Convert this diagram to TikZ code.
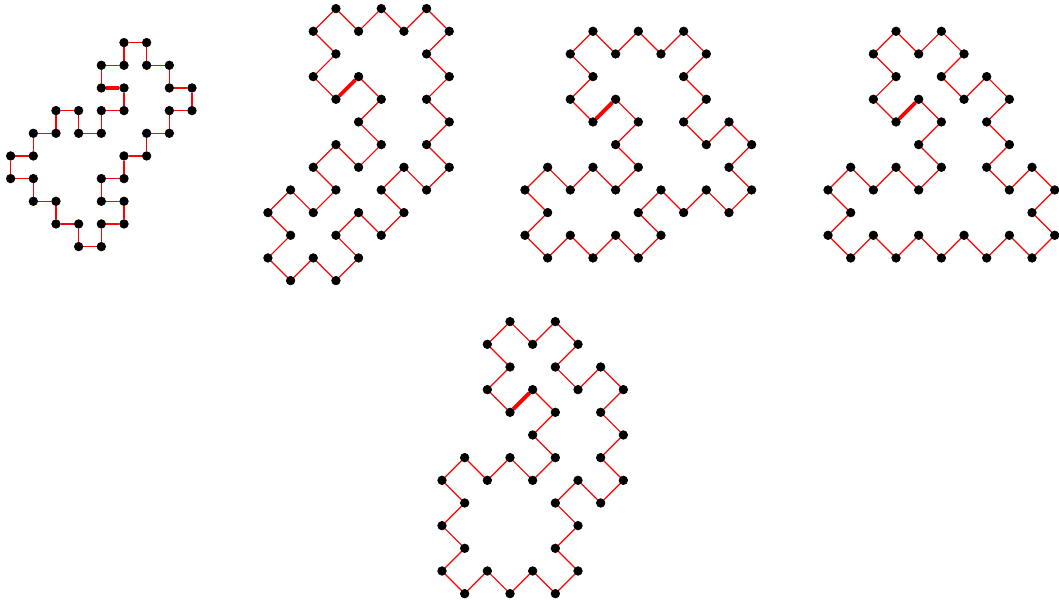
\documentclass[tikz,border=0pt]{standalone}
\usepackage{pgf, tikz}
\pgfdeclarelayer{edgelayer}
\pgfdeclarelayer{nodelayer}
\pgfsetlayers{edgelayer,nodelayer,main}
\tikzstyle{edge}=[draw=red, line width=0.75pt]
\tikzstyle{boldedge}=[draw=red, line width=2.4pt]
\tikzstyle{vertex}=[circle, fill=black, draw=black, inner sep=0pt, minimum size=5.4pt]

\begin{document}
\begin{tikzpicture}[scale=0.5]
	\useasboundingbox (0, 0) rectangle (46.72, 26.6);
	\begin{pgfonlayer}{nodelayer}
		\begin{scope}[shift={(0.47, 24.72)}]
			\node [style=vertex] (0) at (5, -2) {};
			\node [style=vertex] (1) at (5, -3) {};
			\node [style=vertex] (2) at (4, -3) {};
			\node [style=vertex] (3) at (4, -4) {};
			\node [style=vertex] (4) at (3, -4) {};
			\node [style=vertex] (5) at (3, -3) {};
			\node [style=vertex] (6) at (2, -3) {};
			\node [style=vertex] (7) at (2, -4) {};
			\node [style=vertex] (8) at (1, -4) {};
			\node [style=vertex] (9) at (1, -5) {};
			\node [style=vertex] (10) at (0, -5) {};
			\node [style=vertex] (11) at (0, -6) {};
			\node [style=vertex] (12) at (1, -6) {};
			\node [style=vertex] (13) at (1, -7) {};
			\node [style=vertex] (14) at (2, -7) {};
			\node [style=vertex] (15) at (2, -8) {};
			\node [style=vertex] (16) at (3, -8) {};
			\node [style=vertex] (17) at (3, -9) {};
			\node [style=vertex] (18) at (4, -9) {};
			\node [style=vertex] (19) at (4, -8) {};
			\node [style=vertex] (20) at (5, -8) {};
			\node [style=vertex] (21) at (5, -7) {};
			\node [style=vertex] (22) at (4, -7) {};
			\node [style=vertex] (23) at (4, -6) {};
			\node [style=vertex] (24) at (5, -6) {};
			\node [style=vertex] (25) at (5, -5) {};
			\node [style=vertex] (26) at (6, -5) {};
			\node [style=vertex] (27) at (6, -4) {};
			\node [style=vertex] (28) at (7, -4) {};
			\node [style=vertex] (29) at (7, -3) {};
			\node [style=vertex] (30) at (8, -3) {};
			\node [style=vertex] (31) at (8, -2) {};
			\node [style=vertex] (32) at (7, -2) {};
			\node [style=vertex] (33) at (7, -1) {};
			\node [style=vertex] (34) at (6, -1) {};
			\node [style=vertex] (35) at (6, 0) {};
			\node [style=vertex] (36) at (5, 0) {};
			\node [style=vertex] (37) at (5, -1) {};
			\node [style=vertex] (38) at (4, -1) {};
			\node [style=vertex] (39) at (4, -2) {};
		\end{scope}
		\begin{scope}[shift={(11.82, 26.22)}]
			\node [style=vertex] (40) at (4, -3) {};
			\node [style=vertex] (41) at (5, -4) {};
			\node [style=vertex] (42) at (4, -5) {};
			\node [style=vertex] (43) at (5, -6) {};
			\node [style=vertex] (44) at (4, -7) {};
			\node [style=vertex] (45) at (3, -6) {};
			\node [style=vertex] (46) at (2, -7) {};
			\node [style=vertex] (47) at (3, -8) {};
			\node [style=vertex] (48) at (2, -9) {};
			\node [style=vertex] (49) at (1, -8) {};
			\node [style=vertex] (50) at (0, -9) {};
			\node [style=vertex] (51) at (1, -10) {};
			\node [style=vertex] (52) at (0, -11) {};
			\node [style=vertex] (53) at (1, -12) {};
			\node [style=vertex] (54) at (2, -11) {};
			\node [style=vertex] (55) at (3, -12) {};
			\node [style=vertex] (56) at (4, -11) {};
			\node [style=vertex] (57) at (3, -10) {};
			\node [style=vertex] (58) at (4, -9) {};
			\node [style=vertex] (59) at (5, -10) {};
			\node [style=vertex] (60) at (6, -9) {};
			\node [style=vertex] (61) at (5, -8) {};
			\node [style=vertex] (62) at (6, -7) {};
			\node [style=vertex] (63) at (7, -8) {};
			\node [style=vertex] (64) at (8, -7) {};
			\node [style=vertex] (65) at (7, -6) {};
			\node [style=vertex] (66) at (8, -5) {};
			\node [style=vertex] (67) at (7, -4) {};
			\node [style=vertex] (68) at (8, -3) {};
			\node [style=vertex] (69) at (7, -2) {};
			\node [style=vertex] (70) at (8, -1) {};
			\node [style=vertex] (71) at (7, 0) {};
			\node [style=vertex] (72) at (6, -1) {};
			\node [style=vertex] (73) at (5, 0) {};
			\node [style=vertex] (74) at (4, -1) {};
			\node [style=vertex] (75) at (3, 0) {};
			\node [style=vertex] (76) at (2, -1) {};
			\node [style=vertex] (77) at (3, -2) {};
			\node [style=vertex] (78) at (2, -3) {};
			\node [style=vertex] (79) at (3, -4) {};
		\end{scope}
		\begin{scope}[shift={(23.16, 25.22)}]
			\node [style=vertex] (80) at (4, -3) {};
			\node [style=vertex] (81) at (5, -4) {};
			\node [style=vertex] (82) at (4, -5) {};
			\node [style=vertex] (83) at (5, -6) {};
			\node [style=vertex] (84) at (4, -7) {};
			\node [style=vertex] (85) at (3, -6) {};
			\node [style=vertex] (86) at (2, -7) {};
			\node [style=vertex] (87) at (1, -6) {};
			\node [style=vertex] (88) at (0, -7) {};
			\node [style=vertex] (89) at (1, -8) {};
			\node [style=vertex] (90) at (0, -9) {};
			\node [style=vertex] (91) at (1, -10) {};
			\node [style=vertex] (92) at (2, -9) {};
			\node [style=vertex] (93) at (3, -10) {};
			\node [style=vertex] (94) at (4, -9) {};
			\node [style=vertex] (95) at (5, -10) {};
			\node [style=vertex] (96) at (6, -9) {};
			\node [style=vertex] (97) at (5, -8) {};
			\node [style=vertex] (98) at (6, -7) {};
			\node [style=vertex] (99) at (7, -8) {};
			\node [style=vertex] (100) at (8, -7) {};
			\node [style=vertex] (101) at (9, -8) {};
			\node [style=vertex] (102) at (10, -7) {};
			\node [style=vertex] (103) at (9, -6) {};
			\node [style=vertex] (104) at (10, -5) {};
			\node [style=vertex] (105) at (9, -4) {};
			\node [style=vertex] (106) at (8, -5) {};
			\node [style=vertex] (107) at (7, -4) {};
			\node [style=vertex] (108) at (8, -3) {};
			\node [style=vertex] (109) at (7, -2) {};
			\node [style=vertex] (110) at (8, -1) {};
			\node [style=vertex] (111) at (7, 0) {};
			\node [style=vertex] (112) at (6, -1) {};
			\node [style=vertex] (113) at (5, 0) {};
			\node [style=vertex] (114) at (4, -1) {};
			\node [style=vertex] (115) at (3, 0) {};
			\node [style=vertex] (116) at (2, -1) {};
			\node [style=vertex] (117) at (3, -2) {};
			\node [style=vertex] (118) at (2, -3) {};
			\node [style=vertex] (119) at (3, -4) {};
		\end{scope}
		\begin{scope}[shift={(36.53, 25.22)}]
			\node [style=vertex] (120) at (4, -3) {};
			\node [style=vertex] (121) at (5, -4) {};
			\node [style=vertex] (122) at (4, -5) {};
			\node [style=vertex] (123) at (5, -6) {};
			\node [style=vertex] (124) at (4, -7) {};
			\node [style=vertex] (125) at (3, -6) {};
			\node [style=vertex] (126) at (2, -7) {};
			\node [style=vertex] (127) at (1, -6) {};
			\node [style=vertex] (128) at (0, -7) {};
			\node [style=vertex] (129) at (1, -8) {};
			\node [style=vertex] (130) at (0, -9) {};
			\node [style=vertex] (131) at (1, -10) {};
			\node [style=vertex] (132) at (2, -9) {};
			\node [style=vertex] (133) at (3, -10) {};
			\node [style=vertex] (134) at (4, -9) {};
			\node [style=vertex] (135) at (5, -10) {};
			\node [style=vertex] (136) at (6, -9) {};
			\node [style=vertex] (137) at (7, -10) {};
			\node [style=vertex] (138) at (8, -9) {};
			\node [style=vertex] (139) at (9, -10) {};
			\node [style=vertex] (140) at (10, -9) {};
			\node [style=vertex] (141) at (9, -8) {};
			\node [style=vertex] (142) at (10, -7) {};
			\node [style=vertex] (143) at (9, -6) {};
			\node [style=vertex] (144) at (8, -7) {};
			\node [style=vertex] (145) at (7, -6) {};
			\node [style=vertex] (146) at (8, -5) {};
			\node [style=vertex] (147) at (7, -4) {};
			\node [style=vertex] (148) at (8, -3) {};
			\node [style=vertex] (149) at (7, -2) {};
			\node [style=vertex] (150) at (6, -3) {};
			\node [style=vertex] (151) at (5, -2) {};
			\node [style=vertex] (152) at (6, -1) {};
			\node [style=vertex] (153) at (5, 0) {};
			\node [style=vertex] (154) at (4, -1) {};
			\node [style=vertex] (155) at (3, 0) {};
			\node [style=vertex] (156) at (2, -1) {};
			\node [style=vertex] (157) at (3, -2) {};
			\node [style=vertex] (158) at (2, -3) {};
			\node [style=vertex] (159) at (3, -4) {};
		\end{scope}
		\begin{scope}[shift={(19.5, 12.41)}]
			\node [style=vertex] (160) at (4, -3) {};
			\node [style=vertex] (161) at (5, -4) {};
			\node [style=vertex] (162) at (4, -5) {};
			\node [style=vertex] (163) at (5, -6) {};
			\node [style=vertex] (164) at (4, -7) {};
			\node [style=vertex] (165) at (3, -6) {};
			\node [style=vertex] (166) at (2, -7) {};
			\node [style=vertex] (167) at (1, -6) {};
			\node [style=vertex] (168) at (0, -7) {};
			\node [style=vertex] (169) at (1, -8) {};
			\node [style=vertex] (170) at (0, -9) {};
			\node [style=vertex] (171) at (1, -10) {};
			\node [style=vertex] (172) at (0, -11) {};
			\node [style=vertex] (173) at (1, -12) {};
			\node [style=vertex] (174) at (2, -11) {};
			\node [style=vertex] (175) at (3, -12) {};
			\node [style=vertex] (176) at (4, -11) {};
			\node [style=vertex] (177) at (5, -12) {};
			\node [style=vertex] (178) at (6, -11) {};
			\node [style=vertex] (179) at (5, -10) {};
			\node [style=vertex] (180) at (6, -9) {};
			\node [style=vertex] (181) at (5, -8) {};
			\node [style=vertex] (182) at (6, -7) {};
			\node [style=vertex] (183) at (7, -8) {};
			\node [style=vertex] (184) at (8, -7) {};
			\node [style=vertex] (185) at (7, -6) {};
			\node [style=vertex] (186) at (8, -5) {};
			\node [style=vertex] (187) at (7, -4) {};
			\node [style=vertex] (188) at (8, -3) {};
			\node [style=vertex] (189) at (7, -2) {};
			\node [style=vertex] (190) at (6, -3) {};
			\node [style=vertex] (191) at (5, -2) {};
			\node [style=vertex] (192) at (6, -1) {};
			\node [style=vertex] (193) at (5, 0) {};
			\node [style=vertex] (194) at (4, -1) {};
			\node [style=vertex] (195) at (3, 0) {};
			\node [style=vertex] (196) at (2, -1) {};
			\node [style=vertex] (197) at (3, -2) {};
			\node [style=vertex] (198) at (2, -3) {};
			\node [style=vertex] (199) at (3, -4) {};
		\end{scope}
	\end{pgfonlayer}
	\begin{pgfonlayer}{edgelayer}
		\draw [style=edge] (0) to (1);
		\draw [style=edge] (1) to (2);
		\draw [style=edge] (2) to (3);
		\draw [style=edge] (3) to (4);
		\draw [style=edge] (4) to (5);
		\draw [style=edge] (5) to (6);
		\draw [style=edge] (6) to (7);
		\draw [style=edge] (7) to (8);
		\draw [style=edge] (8) to (9);
		\draw [style=edge] (9) to (10);
		\draw [style=edge] (10) to (11);
		\draw [style=edge] (11) to (12);
		\draw [style=edge] (12) to (13);
		\draw [style=edge] (13) to (14);
		\draw [style=edge] (14) to (15);
		\draw [style=edge] (15) to (16);
		\draw [style=edge] (16) to (17);
		\draw [style=edge] (17) to (18);
		\draw [style=edge] (18) to (19);
		\draw [style=edge] (19) to (20);
		\draw [style=edge] (20) to (21);
		\draw [style=edge] (21) to (22);
		\draw [style=edge] (22) to (23);
		\draw [style=edge] (23) to (24);
		\draw [style=edge] (24) to (25);
		\draw [style=edge] (25) to (26);
		\draw [style=edge] (26) to (27);
		\draw [style=edge] (27) to (28);
		\draw [style=edge] (28) to (29);
		\draw [style=edge] (29) to (30);
		\draw [style=edge] (30) to (31);
		\draw [style=edge] (31) to (32);
		\draw [style=edge] (32) to (33);
		\draw [style=edge] (33) to (34);
		\draw [style=edge] (34) to (35);
		\draw [style=edge] (35) to (36);
		\draw [style=edge] (36) to (37);
		\draw [style=edge] (37) to (38);
		\draw [style=edge] (38) to (39);
		\draw [style=boldedge] (39) to (0);
		\draw [style=edge] (40) to (41);
		\draw [style=edge] (41) to (42);
		\draw [style=edge] (42) to (43);
		\draw [style=edge] (43) to (44);
		\draw [style=edge] (44) to (45);
		\draw [style=edge] (45) to (46);
		\draw [style=edge] (46) to (47);
		\draw [style=edge] (47) to (48);
		\draw [style=edge] (48) to (49);
		\draw [style=edge] (49) to (50);
		\draw [style=edge] (50) to (51);
		\draw [style=edge] (51) to (52);
		\draw [style=edge] (52) to (53);
		\draw [style=edge] (53) to (54);
		\draw [style=edge] (54) to (55);
		\draw [style=edge] (55) to (56);
		\draw [style=edge] (56) to (57);
		\draw [style=edge] (57) to (58);
		\draw [style=edge] (58) to (59);
		\draw [style=edge] (59) to (60);
		\draw [style=edge] (60) to (61);
		\draw [style=edge] (61) to (62);
		\draw [style=edge] (62) to (63);
		\draw [style=edge] (63) to (64);
		\draw [style=edge] (64) to (65);
		\draw [style=edge] (65) to (66);
		\draw [style=edge] (66) to (67);
		\draw [style=edge] (67) to (68);
		\draw [style=edge] (68) to (69);
		\draw [style=edge] (69) to (70);
		\draw [style=edge] (70) to (71);
		\draw [style=edge] (71) to (72);
		\draw [style=edge] (72) to (73);
		\draw [style=edge] (73) to (74);
		\draw [style=edge] (74) to (75);
		\draw [style=edge] (75) to (76);
		\draw [style=edge] (76) to (77);
		\draw [style=edge] (77) to (78);
		\draw [style=edge] (78) to (79);
		\draw [style=boldedge] (79) to (40);
		\draw [style=edge] (80) to (81);
		\draw [style=edge] (81) to (82);
		\draw [style=edge] (82) to (83);
		\draw [style=edge] (83) to (84);
		\draw [style=edge] (84) to (85);
		\draw [style=edge] (85) to (86);
		\draw [style=edge] (86) to (87);
		\draw [style=edge] (87) to (88);
		\draw [style=edge] (88) to (89);
		\draw [style=edge] (89) to (90);
		\draw [style=edge] (90) to (91);
		\draw [style=edge] (91) to (92);
		\draw [style=edge] (92) to (93);
		\draw [style=edge] (93) to (94);
		\draw [style=edge] (94) to (95);
		\draw [style=edge] (95) to (96);
		\draw [style=edge] (96) to (97);
		\draw [style=edge] (97) to (98);
		\draw [style=edge] (98) to (99);
		\draw [style=edge] (99) to (100);
		\draw [style=edge] (100) to (101);
		\draw [style=edge] (101) to (102);
		\draw [style=edge] (102) to (103);
		\draw [style=edge] (103) to (104);
		\draw [style=edge] (104) to (105);
		\draw [style=edge] (105) to (106);
		\draw [style=edge] (106) to (107);
		\draw [style=edge] (107) to (108);
		\draw [style=edge] (108) to (109);
		\draw [style=edge] (109) to (110);
		\draw [style=edge] (110) to (111);
		\draw [style=edge] (111) to (112);
		\draw [style=edge] (112) to (113);
		\draw [style=edge] (113) to (114);
		\draw [style=edge] (114) to (115);
		\draw [style=edge] (115) to (116);
		\draw [style=edge] (116) to (117);
		\draw [style=edge] (117) to (118);
		\draw [style=edge] (118) to (119);
		\draw [style=boldedge] (119) to (80);
		\draw [style=edge] (120) to (121);
		\draw [style=edge] (121) to (122);
		\draw [style=edge] (122) to (123);
		\draw [style=edge] (123) to (124);
		\draw [style=edge] (124) to (125);
		\draw [style=edge] (125) to (126);
		\draw [style=edge] (126) to (127);
		\draw [style=edge] (127) to (128);
		\draw [style=edge] (128) to (129);
		\draw [style=edge] (129) to (130);
		\draw [style=edge] (130) to (131);
		\draw [style=edge] (131) to (132);
		\draw [style=edge] (132) to (133);
		\draw [style=edge] (133) to (134);
		\draw [style=edge] (134) to (135);
		\draw [style=edge] (135) to (136);
		\draw [style=edge] (136) to (137);
		\draw [style=edge] (137) to (138);
		\draw [style=edge] (138) to (139);
		\draw [style=edge] (139) to (140);
		\draw [style=edge] (140) to (141);
		\draw [style=edge] (141) to (142);
		\draw [style=edge] (142) to (143);
		\draw [style=edge] (143) to (144);
		\draw [style=edge] (144) to (145);
		\draw [style=edge] (145) to (146);
		\draw [style=edge] (146) to (147);
		\draw [style=edge] (147) to (148);
		\draw [style=edge] (148) to (149);
		\draw [style=edge] (149) to (150);
		\draw [style=edge] (150) to (151);
		\draw [style=edge] (151) to (152);
		\draw [style=edge] (152) to (153);
		\draw [style=edge] (153) to (154);
		\draw [style=edge] (154) to (155);
		\draw [style=edge] (155) to (156);
		\draw [style=edge] (156) to (157);
		\draw [style=edge] (157) to (158);
		\draw [style=edge] (158) to (159);
		\draw [style=boldedge] (159) to (120);
		\draw [style=edge] (160) to (161);
		\draw [style=edge] (161) to (162);
		\draw [style=edge] (162) to (163);
		\draw [style=edge] (163) to (164);
		\draw [style=edge] (164) to (165);
		\draw [style=edge] (165) to (166);
		\draw [style=edge] (166) to (167);
		\draw [style=edge] (167) to (168);
		\draw [style=edge] (168) to (169);
		\draw [style=edge] (169) to (170);
		\draw [style=edge] (170) to (171);
		\draw [style=edge] (171) to (172);
		\draw [style=edge] (172) to (173);
		\draw [style=edge] (173) to (174);
		\draw [style=edge] (174) to (175);
		\draw [style=edge] (175) to (176);
		\draw [style=edge] (176) to (177);
		\draw [style=edge] (177) to (178);
		\draw [style=edge] (178) to (179);
		\draw [style=edge] (179) to (180);
		\draw [style=edge] (180) to (181);
		\draw [style=edge] (181) to (182);
		\draw [style=edge] (182) to (183);
		\draw [style=edge] (183) to (184);
		\draw [style=edge] (184) to (185);
		\draw [style=edge] (185) to (186);
		\draw [style=edge] (186) to (187);
		\draw [style=edge] (187) to (188);
		\draw [style=edge] (188) to (189);
		\draw [style=edge] (189) to (190);
		\draw [style=edge] (190) to (191);
		\draw [style=edge] (191) to (192);
		\draw [style=edge] (192) to (193);
		\draw [style=edge] (193) to (194);
		\draw [style=edge] (194) to (195);
		\draw [style=edge] (195) to (196);
		\draw [style=edge] (196) to (197);
		\draw [style=edge] (197) to (198);
		\draw [style=edge] (198) to (199);
		\draw [style=boldedge] (199) to (160);
	\end{pgfonlayer}
\end{tikzpicture}
\end{document}
